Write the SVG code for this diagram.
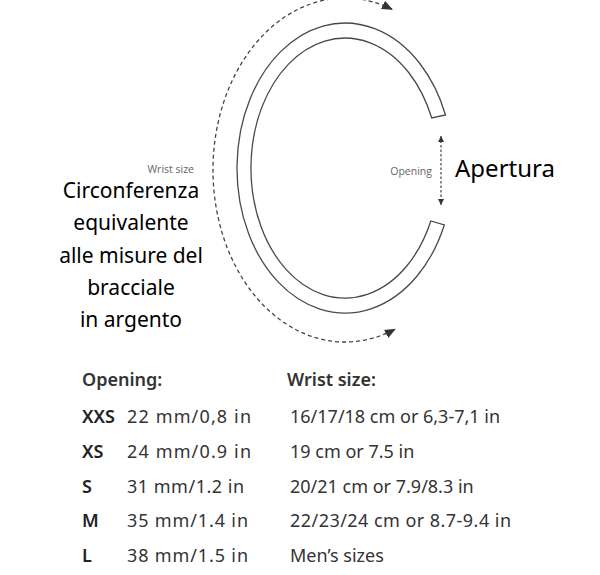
<svg xmlns="http://www.w3.org/2000/svg" width="600" height="575" viewBox="0 0 600 575">
<style>
.band{fill:none;stroke:#4a4a4a;stroke-width:1.3}
.dash{fill:none;stroke:#444;stroke-width:1.3;stroke-dasharray:4 3}
.dot{fill:none;stroke:#444;stroke-width:1.2;stroke-dasharray:2.5 2}
.small{font-family:"Open Sans","Noto Sans",sans-serif;font-size:10.5px;fill:#666}
.big{font-family:"Noto Sans","Open Sans",sans-serif;font-size:21px;fill:#000}
.hdr{font-family:"Noto Sans","Open Sans",sans-serif;font-size:18px;font-weight:600;fill:#333}
.sz{font-family:"Noto Sans","Open Sans",sans-serif;font-size:18px;font-weight:600;fill:#222}
.val{font-family:"Noto Sans","Open Sans",sans-serif;font-size:18px;fill:#333}
</style>
<defs>
<marker id="ah" markerUnits="userSpaceOnUse" markerWidth="12" markerHeight="10" refX="10" refY="4.5" orient="auto-start-reverse">
<path d="M0,0 L11,4.5 L0,9 Z" fill="#333"/>
</marker>
<marker id="ahs" markerUnits="userSpaceOnUse" markerWidth="8" markerHeight="8" refX="6" refY="3" orient="auto-start-reverse">
<path d="M0,0 L6,3 L0,6 Z" fill="#333"/>
</marker>
</defs>
<rect width="600" height="575" fill="#fff"/>
<g id="bracelet">
<path class="band" d="M445.5,115 A108,145 0 1 0 444.3,225 L430.8,221 A94,130 0 1 1 431.7,118 Z"/>
</g>
<g id="connectors">
<path id="wrist-arrow" class="dash" d="M392,9.3 A132,172 0 1 0 395,329.2" marker-start="url(#ah)" marker-end="url(#ah)"/>
<path id="opening-arrow" class="dot" d="M441,136 L441,205" marker-start="url(#ahs)" marker-end="url(#ahs)"/>
</g>
<g id="label-wrist">
<text class="small" x="194" y="173" text-anchor="end">Wrist size</text>
</g>
<g id="label-opening">
<text class="small" x="432" y="175" text-anchor="end">Opening</text>
</g>
<g id="label-apertura">
<text x="455" y="177" font-family="Noto Sans, Open Sans, sans-serif" font-size="24" fill="#000">Apertura</text>
</g>
<g id="label-circonferenza">
<text class="big" text-anchor="middle" x="131" y="198">Circonferenza</text>
<text class="big" text-anchor="middle" x="131" y="230">equivalente</text>
<text class="big" text-anchor="middle" x="131" y="263">alle misure del</text>
<text class="big" text-anchor="middle" x="131" y="295">bracciale</text>
<text class="big" text-anchor="middle" x="131" y="327">in argento</text>
</g>
<g id="table">
<text class="hdr" x="82" y="386">Opening:</text>
<text class="hdr" x="287" y="386">Wrist size:</text>
<text class="sz" x="82" y="423">XXS</text>
<text class="val" x="127" y="423" textLength="124" lengthAdjust="spacing">22 mm/0,8 in</text>
<text class="val" x="290" y="423">16/17/18 cm or 6,3-7,1 in</text>
<text class="sz" x="82" y="458">XS</text>
<text class="val" x="127" y="458" textLength="124" lengthAdjust="spacing">24 mm/0.9 in</text>
<text class="val" x="290" y="458">19 cm or 7.5 in</text>
<text class="sz" x="82" y="493">S</text>
<text class="val" x="127" y="493" textLength="117" lengthAdjust="spacing">31 mm/1.2 in</text>
<text class="val" x="290" y="493">20/21 cm or 7.9/8.3 in</text>
<text class="sz" x="82" y="527">M</text>
<text class="val" x="127" y="527" textLength="121" lengthAdjust="spacing">35 mm/1.4 in</text>
<text class="val" x="290" y="527" textLength="221" lengthAdjust="spacing">22/23/24 cm or 8.7-9.4 in</text>
<text class="sz" x="82" y="562">L</text>
<text class="val" x="127" y="562" textLength="121" lengthAdjust="spacing">38 mm/1.5 in</text>
<text class="val" x="290" y="562">Men’s sizes</text>
</g>
</svg>
